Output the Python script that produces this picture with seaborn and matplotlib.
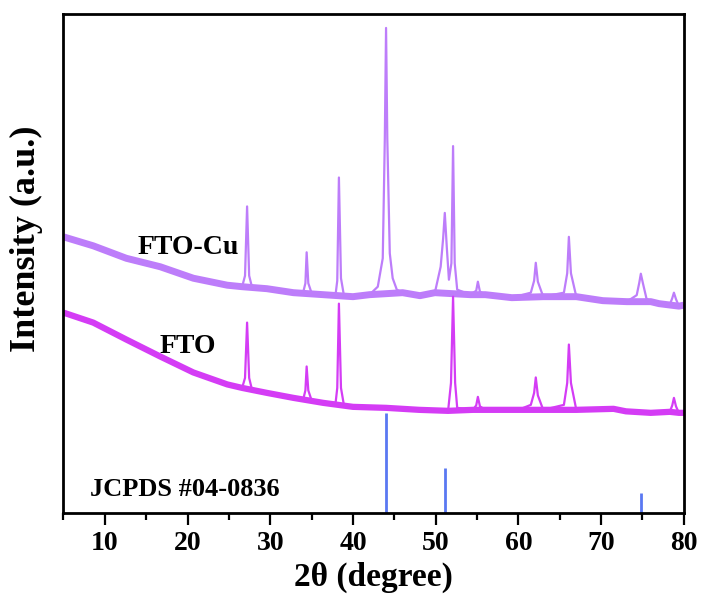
import matplotlib
matplotlib.use("Agg")
import matplotlib.pyplot as plt
import seaborn as sns
import pandas as pd
from matplotlib.ticker import MultipleLocator

# ---- data (arbitrary intensity units) ----
cu_x = [5, 8.6, 12.6, 16.7, 20.7, 24.8, 26.6, 26.95, 27.2, 27.45, 27.8, 29.6, 32.8, 34.0, 34.25, 34.4, 34.6, 35.0,
        36.4, 37.9, 38.1, 38.3, 38.55, 38.9, 40.0, 42.0, 43.0, 43.6, 43.85, 44.0, 44.15, 44.45, 44.8, 45.3, 46.0,
        48.1, 49.9, 50.6, 50.9, 51.1, 51.35, 51.6, 51.9, 52.1, 52.3, 52.6, 54.2, 54.9, 55.1, 55.35, 56.0, 59.2,
        61.5, 61.9, 62.1, 62.35, 63.0, 65.5, 65.9, 66.1, 66.35, 67.0, 70.2, 73.1, 74.3, 74.6, 74.8, 75.05, 75.5,
        77.0, 78.3, 78.6, 78.8, 79.05, 79.4, 80]
cu_y = [55.3, 53.5, 51.0, 49.3, 47.0, 45.6, 45.3, 47.5, 61.4, 47.5, 45.2, 44.9, 44.1, 44.3, 46.0, 52.2, 46.0, 44.0,
        43.7, 43.8, 46.5, 67.2, 47.0, 43.6, 43.3, 43.7, 45.3, 51.0, 75.0, 97.2, 75.0, 52.0, 47.0, 44.7, 44.1,
        43.5, 44.1, 49.3, 55.0, 60.1, 53.0, 46.7, 50.0, 73.5, 50.0, 44.7, 43.7, 44.5, 46.3, 44.3, 43.7, 43.1,
        44.1, 46.5, 50.1, 46.3, 43.3, 44.1, 48.0, 55.3, 48.0, 43.3, 42.5, 42.3, 43.6, 46.0, 47.9, 46.0, 42.8,
        41.9, 41.7, 43.0, 44.1, 42.8, 41.4, 41.6]
cu_base_x = [5, 8.6, 12.6, 16.7, 20.7, 24.8, 26.6, 29.6, 32.8, 36.4, 40.0, 42.0, 46.0, 48.1, 49.9, 54.2, 56.0,
             59.2, 63.0, 67.0, 70.2, 73.1, 76.0, 77.0, 79.4, 80]
cu_base_y = [55.3, 53.5, 51.0, 49.3, 47.0, 45.6, 45.3, 44.9, 44.1, 43.7, 43.3, 43.7, 44.1, 43.5, 44.1, 43.7, 43.7,
             43.1, 43.3, 43.3, 42.5, 42.3, 42.3, 41.9, 41.4, 41.6]

fto_x = [5, 8.6, 12.6, 16.7, 20.7, 24.8, 26.6, 26.95, 27.2, 27.45, 27.8, 29.6, 32.8, 34.0, 34.25, 34.4, 34.6, 35.0,
         36.4, 37.9, 38.1, 38.3, 38.55, 38.9, 40.0, 42.0, 44.0, 48.0, 51.5, 51.85, 52.1, 52.35, 52.6, 54.5, 54.9,
         55.1, 55.35, 56.0, 60.0, 61.5, 61.9, 62.1, 62.35, 63.0, 65.5, 65.9, 66.1, 66.35, 67.0, 71.5, 73.0, 76.0,
         78.3, 78.6, 78.8, 79.05, 79.4, 80]
fto_y = [40.1, 38.1, 34.7, 31.3, 28.1, 25.7, 25.0, 27.0, 38.1, 27.0, 24.6, 24.0, 23.0, 22.8, 24.5, 29.3, 24.5, 22.5,
         22.0, 22.0, 25.0, 41.9, 25.0, 21.6, 21.2, 21.0, 21.0, 20.6, 20.4, 26.0, 43.3, 26.0, 21.0, 20.6, 21.5,
         23.2, 21.3, 20.6, 20.6, 21.6, 24.0, 27.1, 23.5, 20.6, 21.6, 26.0, 33.7, 26.0, 20.6, 20.8, 20.3, 20.0,
         20.2, 21.5, 23.0, 21.3, 20.0, 20.0]
fto_base_x = [5, 8.6, 12.6, 16.7, 20.7, 24.8, 26.6, 29.6, 32.8, 36.4, 40.0, 44.0, 48.0, 51.5, 54.5, 56.0, 60.0,
              63.0, 67.0, 71.5, 73.0, 76.0, 78.3, 79.4, 80]
fto_base_y = [40.1, 38.1, 34.7, 31.3, 28.1, 25.7, 25.0, 24.0, 23.0, 22.0, 21.2, 21.0, 20.6, 20.4, 20.6, 20.6, 20.6,
              20.6, 20.6, 20.8, 20.3, 20.0, 20.2, 20.0, 20.0]

ref_pos = [44.0, 51.1, 74.8]
ref_height = [20.0, 9.0, 4.0]

labels = ["FTO-Cu", "FTO", "JCPDS #04-0836"]
xticks = [10, 20, 30, 40, 50, 60, 70, 80]

# ---- style ----
sns.set_theme(style="ticks")
plt.rcParams["font.family"] = ["Liberation Serif", "DejaVu Serif"]
plt.rcParams["font.weight"] = "bold"
plt.rcParams["text.color"] = "black"
plt.rcParams["axes.labelcolor"] = "black"
plt.rcParams["xtick.color"] = "black"

c_cu = "#BD7DFA"
c_fto = "#D43CF5"
c_ref = "#5A78F2"

fig = plt.figure(figsize=(7.05, 6.08), dpi=100)
ax = fig.add_axes([0.090, 0.157, 0.880, 0.820])

cu_df = pd.DataFrame({"x": cu_x, "y": cu_y})
cu_b = pd.DataFrame({"x": cu_base_x, "y": cu_base_y})
fto_df = pd.DataFrame({"x": fto_x, "y": fto_y})
fto_b = pd.DataFrame({"x": fto_base_x, "y": fto_base_y})

band_kw = dict(sort=False, estimator=None, solid_joinstyle="round", solid_capstyle="butt")
sns.lineplot(data=cu_b, x="x", y="y", ax=ax, color=c_cu, lw=5.0, **band_kw)
sns.lineplot(data=cu_df, x="x", y="y", ax=ax, color=c_cu, lw=1.6, **band_kw)
sns.lineplot(data=fto_b, x="x", y="y", ax=ax, color=c_fto, lw=4.5, **band_kw)
sns.lineplot(data=fto_df, x="x", y="y", ax=ax, color=c_fto, lw=1.6, **band_kw)

ax.vlines(ref_pos, 0, ref_height, colors=c_ref, lw=2.0)

ax.set_xlim(5, 80)
ax.set_ylim(0, 100)
ax.set_xticks(xticks)
ax.xaxis.set_minor_locator(MultipleLocator(5))
ax.set_yticks([])
ax.tick_params(axis="x", which="major", direction="out", length=8.5, width=1.6, labelsize=20, pad=5,
               colors="black")
ax.tick_params(axis="x", which="minor", direction="out", length=5, width=1.6, colors="black")
for lab in ax.get_xticklabels():
    lab.set_fontweight("bold")
for s in ax.spines.values():
    s.set_linewidth(2.0)
    s.set_color("black")

ax.set_xlabel("2θ (degree)", fontsize=24, fontweight="bold", labelpad=4, color="black")
ax.set_ylabel("Intensity (a.u.)", fontsize=26, fontweight="bold", color="black")
ax.yaxis.set_label_coords(-0.033, 0.55)

ax.text(20.05, 53.1, labels[0], fontsize=20, fontweight="bold", ha="center", va="center", color="black")
ax.text(20.05, 33.3, labels[1], fontsize=20, fontweight="bold", ha="center", va="center", color="black")
ax.text(8.2, 4.6, labels[2], fontsize=19, fontweight="bold", ha="left", va="center", color="black")

fig.savefig("out.png", dpi=100)
